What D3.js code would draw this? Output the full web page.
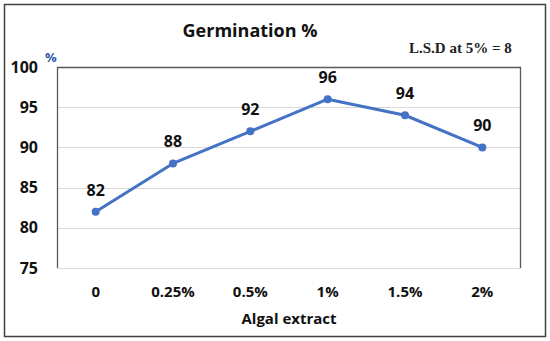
<!DOCTYPE html>
<html>
<head>
<meta charset="utf-8">
<script src="https://cdn.jsdelivr.net/npm/d3@7"></script>
<style>
  body { margin: 0; background: #fff; }
  text { font-family: "Open Sans", "Noto Sans", sans-serif; }
</style>
</head>
<body>
<div id="chart"></div>
<script>
// datos
var categorias = ["0", "0.25%", "0.5%", "1%", "1.5%", "2%"];
var germinacion = [82, 88, 92, 96, 94, 90];
var ticksY = [75, 80, 85, 90, 95, 100];

var width = 550, height = 341;
var margin = {top: 67, right: 29, bottom: 73, left: 57};
var w = width - margin.left - margin.right,
    h = height - margin.top - margin.bottom;

var svg = d3.select("#chart").append("svg")
    .attr("width", width)
    .attr("height", height);

// marco exterior
svg.append("rect")
    .attr("x", 4.5).attr("y", 4.5)
    .attr("width", 541).attr("height", 332)
    .attr("fill", "#fff")
    .attr("stroke", "#404040")
    .attr("stroke-width", 1.5);

var g = svg.append("g").attr("transform", "translate(" + margin.left + "," + margin.top + ")");

var x = d3.scaleBand().domain(categorias).range([0, w]).padding(0);
var y = d3.scaleLinear().domain([75, 100]).range([h, 0]);

// lineas de la grilla
g.selectAll(".grid")
    .data(ticksY)
    .enter().append("line")
    .attr("class", "grid")
    .attr("x1", 0).attr("x2", w)
    .attr("y1", function(d) { return Math.round(y(d)) + 0.5; })
    .attr("y2", function(d) { return Math.round(y(d)) + 0.5; })
    .attr("stroke", "#d9d9d9")
    .attr("stroke-width", 1);

// borde del area (arriba, izq, der)
g.append("path")
    .attr("d", "M0.5," + h + "V0.5H" + (w - 0.5) + "V" + h)
    .attr("fill", "none")
    .attr("stroke", "#595959")
    .attr("stroke-width", 1.3);

// eje y
var yaxis = g.append("g").call(d3.axisLeft(y).tickValues(ticksY).tickSize(0).tickPadding(19));
yaxis.select(".domain").remove();
yaxis.selectAll("text")
    .style("font-family", "'Open Sans', sans-serif")
    .style("font-size", "16px")
    .style("font-weight", "bold")
    .attr("fill", "#111");

// eje x
var xaxis = g.append("g").attr("transform", "translate(0," + h + ")")
    .call(d3.axisBottom(x).tickSize(0).tickPadding(18));
xaxis.select(".domain").remove();
xaxis.selectAll("text")
    .style("font-family", "'Open Sans', sans-serif")
    .style("font-size", "15px")
    .style("font-weight", "bold")
    .attr("fill", "#111");

var datos = categorias.map(function(c, i) { return {cat: c, val: germinacion[i]}; });

var linea = d3.line()
    .x(function(d) { return x(d.cat) + x.bandwidth() / 2; })
    .y(function(d) { return y(d.val); });

g.append("path")
    .datum(datos)
    .attr("d", linea)
    .attr("fill", "none")
    .attr("stroke", "#4472C4")
    .attr("stroke-width", 3)
    .attr("stroke-linejoin", "round");

g.selectAll(".punto")
    .data(datos)
    .enter().append("circle")
    .attr("class", "punto")
    .attr("cx", function(d) { return x(d.cat) + x.bandwidth() / 2; })
    .attr("cy", function(d) { return y(d.val); })
    .attr("r", 4)
    .attr("fill", "#4472C4");

g.selectAll(".etiqueta")
    .data(datos)
    .enter().append("text")
    .attr("class", "etiqueta")
    .attr("x", function(d) { return x(d.cat) + x.bandwidth() / 2; })
    .attr("y", function(d) { return y(d.val) - 16; })
    .attr("text-anchor", "middle")
    .style("font-size", "16px")
    .style("font-weight", "bold")
    .attr("fill", "#111")
    .text(function(d) { return d.val; });

// titulos
svg.append("text")
    .attr("x", 250).attr("y", 37)
    .attr("text-anchor", "middle")
    .style("font-size", "18px")
    .style("font-weight", "bold")
    .attr("fill", "#111")
    .text("Germination %");

svg.append("text")
    .attr("x", margin.left + w / 2).attr("y", 324)
    .attr("text-anchor", "middle")
    .style("font-size", "15px")
    .style("font-weight", "bold")
    .attr("fill", "#111")
    .text("Algal extract");

svg.append("text")
    .attr("x", 409).attr("y", 53)
    .style("font-family", "'Liberation Serif', serif")
    .style("font-size", "15px")
    .style("font-weight", "bold")
    .attr("fill", "#222")
    .text("L.S.D at 5% = 8");

svg.append("text")
    .attr("x", 45).attr("y", 62)
    .style("font-size", "13px")
    .style("font-weight", "bold")
    .attr("fill", "#2E5AA8")
    .text("%");
</script>
</body>
</html>
